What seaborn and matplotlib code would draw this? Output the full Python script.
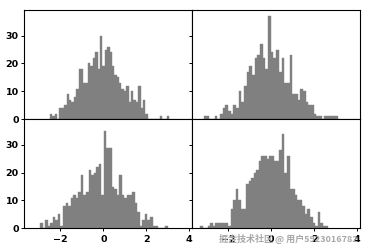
import numpy as np
import pandas as pd
import matplotlib
matplotlib.use("Agg")
import matplotlib.pyplot as plt
import seaborn as sns

# Bin counts (50 bins each), row-major: TL, TR, BL, BR
counts_tl = [2, 1, 2, 0, 4, 4, 5, 9, 7, 6, 8, 11, 18, 18, 13, 13, 20, 19, 22, 24,
             18, 30, 19, 25, 26, 24, 19, 16, 15, 13, 11, 10, 12, 6, 10, 7, 6, 12, 4, 7,
             2, 0, 0, 0, 0, 0, 1, 0, 0, 1]
counts_tr = [1, 1, 0, 0, 1, 0, 2, 4, 5, 3, 2, 5, 4, 10, 6, 12, 17, 19, 16, 22,
             23, 27, 22, 18, 37, 24, 22, 25, 17, 22, 13, 13, 23, 9, 9, 7, 11, 10, 6, 5,
             5, 2, 1, 1, 0, 1, 1, 1, 1, 1]
counts_bl = [2, 0, 3, 1, 2, 4, 3, 5, 1, 8, 9, 8, 11, 12, 11, 13, 19, 12, 13, 21,
             19, 20, 22, 23, 12, 35, 29, 29, 15, 14, 12, 19, 12, 11, 12, 12, 13, 9, 6, 1,
             3, 5, 3, 4, 1, 1, 0, 0, 0, 1]
counts_br = [1, 0, 0, 1, 2, 1, 2, 2, 2, 2, 2, 1, 7, 10, 14, 10, 7, 7, 16, 17,
             18, 20, 21, 24, 26, 26, 25, 26, 26, 24, 24, 28, 34, 20, 26, 14, 14, 12, 10, 10,
             8, 5, 7, 4, 2, 1, 6, 2, 1, 1]

# Data range of each panel's histogram (first and last bin edge)
ranges = [(-2.48, 3.06), (-3.13, 3.10), (-2.94, 3.00), (-3.30, 2.64)]
all_counts = [counts_tl, counts_tr, counts_bl, counts_br]

x_ticks = [-2, 0, 2, 4]
y_ticks = [0, 10, 20, 30]

sns.set_theme(style="white")
plt.rcParams.update({
    "font.family": ["DejaVu Sans"],
    "font.weight": "bold",
    "xtick.direction": "out",
    "ytick.direction": "out",
    "xtick.major.size": 2.5,
    "ytick.major.size": 2.5,
    "xtick.major.width": 0.7,
    "ytick.major.width": 0.7,
    "xtick.major.pad": 2.5,
    "ytick.major.pad": 1.5,
    "xtick.labelsize": 6.8,
    "ytick.labelsize": 6.8,
    "axes.edgecolor": "black",
    "axes.linewidth": 0.8,
    "xtick.bottom": True,
    "ytick.left": True,
    "xtick.color": "black",
    "ytick.color": "black",
})

fig, axes = plt.subplots(2, 2, sharex=True, sharey=True, figsize=(3.69, 2.5), dpi=100)
fig.subplots_adjust(left=0.0659, right=0.9756, top=0.96, bottom=0.0868, wspace=0, hspace=0)

for ax, cnt, (lo, hi) in zip(axes.flat, all_counts, ranges):
    nb = len(cnt)
    width = (hi - lo) / nb
    centers = lo + width * (np.arange(nb) + 0.5)
    df = pd.DataFrame({"x": centers, "w": np.asarray(cnt, dtype=float)})
    sns.histplot(data=df, x="x", weights="w", bins=nb, binrange=(lo, hi), ax=ax,
                 color="#808080", alpha=1.0, linewidth=0.3, edgecolor="#808080")
    ax.set_xlabel("")
    ax.set_ylabel("")
    for s in ax.spines.values():
        s.set_visible(True)
        s.set_color("black")
        s.set_zorder(5)

axes[0, 0].set_xlim(-3.67, 4.13)
axes[0, 0].set_ylim(0, 39.2)
axes[0, 0].set_xticks(x_ticks)
axes[0, 0].set_yticks(y_ticks)
for ax in axes.flat:
    ax.tick_params(bottom=True, left=True)
    for lab in ax.get_xticklabels() + ax.get_yticklabels():
        lab.set_fontweight("bold")

fig.text(0.593, 0.044, "掘金技术社区 @ 用户5923016782", fontsize=6.5,
         color="#a8a8a8", family=["Noto Sans CJK SC", "DejaVu Sans"], va="center",
         zorder=0)

fig.savefig("out.png", dpi=100)
